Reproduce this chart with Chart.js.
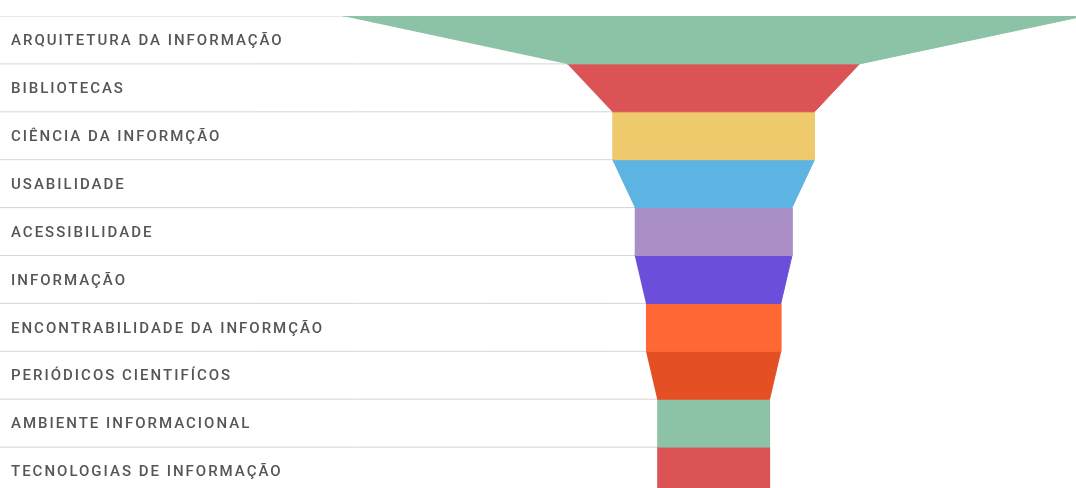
<!DOCTYPE html>
<html>
<head>
<meta charset="utf-8">
<script src="https://cdn.jsdelivr.net/npm/chart.js@4/dist/chart.umd.min.js"></script>
<style>
  html, body { margin: 0; padding: 0; background: #ffffff; overflow: hidden; }
  #wrap { position: relative; width: 1076px; height: 495px; }
</style>
</head>
<body>
<div id="wrap"><canvas id="c"></canvas></div>
<script>
// ---- data ----
const categories = [
  "ARQUITETURA DA INFORMAÇÃO",
  "BIBLIOTECAS",
  "CIÊNCIA DA INFORMÇÃO",
  "USABILIDADE",
  "ACESSIBILIDADE",
  "INFORMAÇÃO",
  "ENCONTRABILIDADE DA INFORMÇÃO",
  "PERIÓDICOS CIENTIFÍCOS",
  "AMBIENTE INFORMACIONAL",
  "TECNOLOGIAS DE INFORMAÇÃO"
];
const values = [33, 13, 9, 9, 7, 7, 6, 6, 5, 5];
const colors = [
  "#8CC3A6", "#DC5355", "#EFCA6C", "#5DB4E3", "#AA8FC7",
  "#6B4FDA", "#FF6834", "#E45024", "#8CC3A6", "#DC5355"
];

// ---- view range of the value axis (funnel centred at 0) ----
const xMin = -31.75;
const xMax = 16.14;

// funnel slices: top edge = own value, bottom edge = next value
const sliceSets = categories.map((name, i) => {
  const top = values[i];
  const bottom = i + 1 < values.length ? values[i + 1] : values[i];
  return {
    label: name,
    data: [
      { x: -top / 2, y: i },
      { x: top / 2, y: i },
      { x: bottom / 2, y: i + 1 },
      { x: -bottom / 2, y: i + 1 }
    ],
    showLine: true,
    fill: 'shape',
    backgroundColor: colors[i],
    borderColor: colors[i],
    borderWidth: 1,
    pointRadius: 0,
    pointHoverRadius: 0,
    tension: 0,
    order: 1
  };
});

// separator lines between rows (from left edge to the funnel centre)
const sepSets = [];
for (let b = 0; b <= categories.length; b++) {
  sepSets.push({
    label: 'sep' + b,
    data: [{ x: xMin, y: b }, { x: 0, y: b }],
    showLine: true,
    fill: false,
    borderColor: '#d6d6d6',
    borderWidth: 1,
    pointRadius: 0,
    pointHoverRadius: 0,
    order: 2
  });
}

const spacingPlugin = {
  id: 'spacing',
  beforeDraw(chart) {
    try { chart.ctx.letterSpacing = '2px'; } catch (e) {}
  }
};

new Chart(document.getElementById('c'), {
  type: 'scatter',
  data: { datasets: sliceSets.concat(sepSets) },
  options: {
    responsive: true,
    maintainAspectRatio: false,
    animation: false,
    layout: { padding: { top: 16, left: 0, right: 0, bottom: 0 } },
    plugins: {
      legend: { display: false },
      tooltip: { enabled: false }
    },
    scales: {
      x: {
        type: 'linear',
        min: xMin,
        max: xMax,
        display: false
      },
      y: {
        type: 'linear',
        reverse: true,
        min: 0,
        max: categories.length,
        grid: { display: false, drawTicks: false },
        border: { display: false },
        afterBuildTicks(scale) {
          scale.ticks = categories.map((_, i) => ({ value: i + 0.53 }));
        },
        afterFit(scale) {
          scale.width = 0;
          scale.paddingTop = 0;
          scale.paddingBottom = 0;
        },
        ticks: {
          mirror: true,
          crossAlign: 'near',
          padding: 11,
          autoSkip: false,
          color: '#555555',
          font: { family: 'Roboto', size: 15, weight: '500' },
          callback(value) {
            return categories[Math.floor(value)];
          }
        }
      }
    }
  },
  plugins: [spacingPlugin]
});
</script>
</body>
</html>
